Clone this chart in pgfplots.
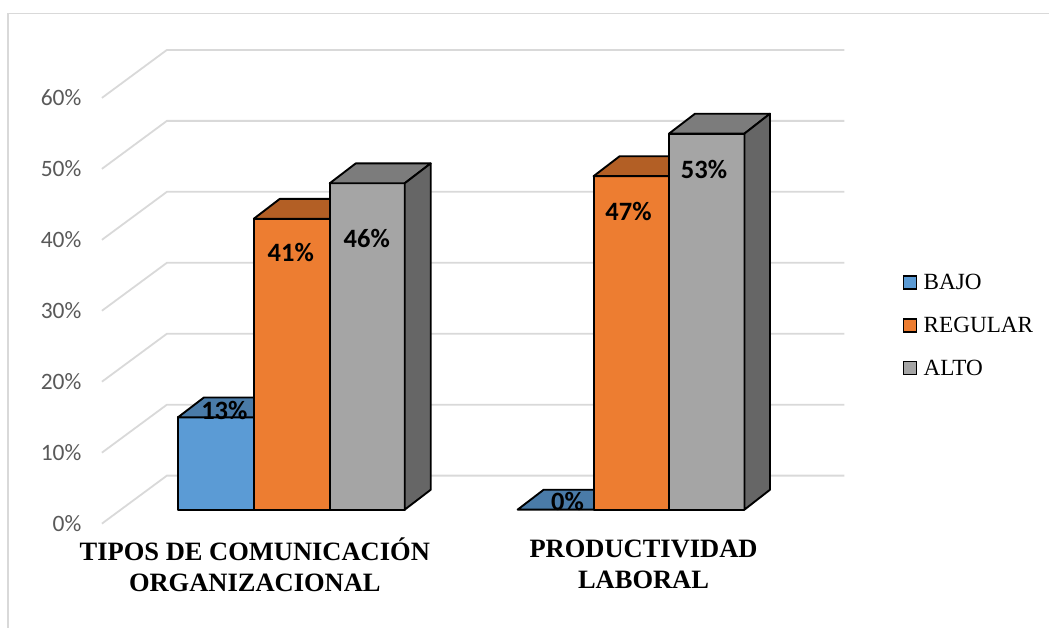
\documentclass[border=0pt]{standalone}
\usepackage{pgfplots}
\pgfplotsset{compat=1.18}
\usepackage{fontspec}
\setmainfont{Liberation Serif}
\newfontfamily\calibri{Carlito}
\definecolor{blueF}{HTML}{5B9BD5}\definecolor{blueT}{HTML}{4A7BA8}
\definecolor{orangeF}{HTML}{ED7D31}\definecolor{orangeT}{HTML}{B35F25}
\definecolor{grayF}{HTML}{A5A5A5}\definecolor{grayT}{HTML}{7C7C7C}\definecolor{grayS}{HTML}{666666}
\definecolor{wall}{HTML}{D9D9D9}\definecolor{ticktext}{HTML}{595959}
\newcommand{\legendbox}[1]{\addlegendimage{legend image code/.code={%
  \draw[fill=#1,draw=black,line width=1.8pt] (0pt,-6.5pt) rectangle (13pt,6.5pt);
  \path (20pt,0pt);}}}
\tikzset{face/.style={draw=black, line width=1.9pt, line join=round}}
\begin{document}
\begin{tikzpicture}
\begin{axis}[
  scale only axis, width=1050pt, height=628pt,
  xmin=0, xmax=1050, ymin=-16.62, ymax=71.83,
  clip=false, no markers,
  axis line style={draw=none}, tick style={draw=none},
  ytick={0,10,20,30,40,50,60},
  yticklabel={\pgfmathprintnumber{\tick}\%},
  /pgf/number format/assume math mode=true,
  yticklabel style={font=\calibri\fontsize{23.5}{23.5}\selectfont, text=ticktext, anchor=east, xshift=85pt, yshift=-14pt},
  xtick={255,644},
  xticklabels={{TIPOS DE COMUNICACIÓN\\ORGANIZACIONAL},{PRODUCTIVIDAD\\LABORAL}},
  xticklabel style={font=\bfseries\fontsize{26.5}{31}\selectfont, align=center, anchor=center, yshift=63pt},
  legend style={at={(0.86,0.5637)}, anchor=north west, draw=none, fill=none, inner sep=0pt,
    font=\fontsize{23.2}{23.2}\selectfont, row sep=26pt, legend cell align=left,
    nodes={inner sep=0pt, outer sep=0pt}},
]
\legendbox{blueF}\addlegendentry{BAJO}
\legendbox{orangeF}\addlegendentry{REGULAR}
\legendbox{grayF}\addlegendentry{ALTO}

% chart frame
\addplot[wall, line width=1.5pt] coordinates {(8,-16.62)(8,69.93)(1050,69.93)};

% walls: each level runs from the front edge to the back, then along the back
\pgfplotsinvokeforeach{0,10,20,30,40,50,60}{
  \addplot[wall, line width=1.8pt] coordinates {(102,#1-1.97)(167,#1+4.79)(845,#1+4.79)};
}

% first group, 13 / 41 / 46
\addplot[face, fill=blueF] coordinates {(178,0)(254,0)(254,13)(178,13)} --cycle;
\addplot[face, fill=blueT] coordinates {(178,13)(254,13)(280,15.8)(204,15.8)} --cycle;
\addplot[face, fill=orangeF] coordinates {(254,0)(330,0)(330,41)(254,41)} --cycle;
\addplot[face, fill=orangeT] coordinates {(254,41)(330,41)(356,43.8)(280,43.8)} --cycle;
\addplot[face, fill=grayF] coordinates {(330,0)(405,0)(405,46)(330,46)} --cycle;
\addplot[face, fill=grayT] coordinates {(330,46)(405,46)(431,48.8)(356,48.8)} --cycle;
\addplot[face, fill=grayS] coordinates {(405,0)(431,2.8)(431,48.8)(405,46)} --cycle;

% second group, 0 / 47 / 53
\addplot[face, fill=blueT] coordinates {(518,0)(594,0)(620,2.8)(544,2.8)} --cycle;
\addplot[face, fill=orangeF] coordinates {(594,0)(669.5,0)(669.5,47)(594,47)} --cycle;
\addplot[face, fill=orangeT] coordinates {(594,47)(669.5,47)(695.5,49.8)(620,49.8)} --cycle;
\addplot[face, fill=grayF] coordinates {(669.5,0)(745,0)(745,53)(669.5,53)} --cycle;
\addplot[face, fill=grayT] coordinates {(669.5,53)(745,53)(770.5,55.8)(695.5,55.8)} --cycle;
\addplot[face, fill=grayS] coordinates {(745,0)(770.5,2.8)(770.5,55.8)(745,53)} --cycle;

% value labels
\begin{scope}[every node/.style={font=\calibri\bfseries\fontsize{26.5}{26.5}\selectfont, inner sep=0pt}]
\node at (axis cs:224.5,14.0) {13\%};
\node at (axis cs:291,36.3) {41\%};
\node at (axis cs:367,38.2) {46\%};
\node at (axis cs:568,1.1) {0\%};
\node at (axis cs:629,42.0) {47\%};
\node at (axis cs:704.5,47.9) {53\%};
\end{scope}
\end{axis}
\end{tikzpicture}
\end{document}
